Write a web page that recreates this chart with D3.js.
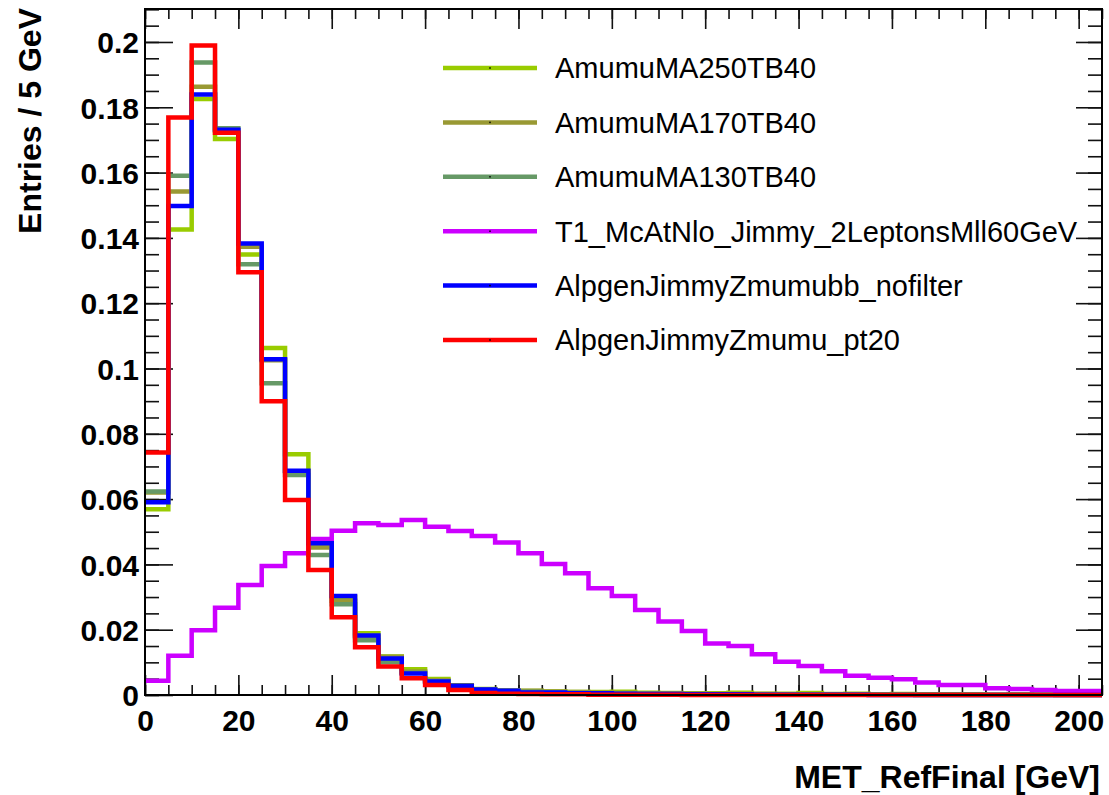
<!DOCTYPE html>
<html>
<head>
<meta charset="utf-8">
<script src="https://cdn.jsdelivr.net/npm/d3@7"></script>
<style>
  html, body { margin: 0; padding: 0; background: #fff; }
  svg { display: block; }
  text { font-family: "Liberation Sans", Arial, Helvetica, sans-serif; }
</style>
</head>
<body>
<svg id="chart" width="1109" height="795"></svg>
<script>
// MET_RefFinal distributions, normalised, 5 GeV bins from 0 to 205 GeV
const binWidth = 5;
const xMin = 0, xMax = 205;

const seriesNames = [
  "AmumuMA250TB40",
  "AmumuMA170TB40",
  "AmumuMA130TB40",
  "T1_McAtNlo_Jimmy_2LeptonsMll60GeV",
  "AlpgenJimmyZmumubb_nofilter",
  "AlpgenJimmyZmumu_pt20"
];
const seriesColors = ["#99cc00", "#999933", "#669966", "#cc00ff", "#0000ff", "#ff0000"];

const amumuMA250 = [0.0569, 0.1426, 0.1825, 0.1703, 0.1349, 0.1063, 0.0737, 0.0462, 0.0300, 0.0189,
  0.0118, 0.0079, 0.0049, 0.0030, 0.0018, 0.0014, 0.0012, 0.0011, 0.0009, 0.0009,
  0.0010, 0.0007, 0.0006, 0.0005, 0.0005, 0.0007, 0.0004, 0.0004, 0.0006, 0.0003,
  0.0004, 0.0002, 0.0003, 0.0002, 0.0002, 0.0002, 0.0001, 0.0002, 0.0001, 0.0001, 0.0001];
const amumuMA170 = [0.0620, 0.1542, 0.1863, 0.1728, 0.1373, 0.1025, 0.0685, 0.0452, 0.0289, 0.0178,
  0.0117, 0.0072, 0.0045, 0.0028, 0.0017, 0.0014, 0.0013, 0.0011, 0.0009, 0.0007,
  0.0006, 0.0005, 0.0005, 0.0004, 0.0003, 0.0003, 0.0003, 0.0002, 0.0002, 0.0002,
  0.0002, 0.0001, 0.0001, 0.0001, 0.0001, 0.0001, 0.0001, 0.0001, 0.0001, 0.0000, 0.0000];
const amumuMA130 = [0.0623, 0.1590, 0.1937, 0.1736, 0.1319, 0.0955, 0.0674, 0.0429, 0.0278, 0.0168,
  0.0100, 0.0068, 0.0042, 0.0026, 0.0016, 0.0012, 0.0010, 0.0008, 0.0006, 0.0005,
  0.0004, 0.0004, 0.0003, 0.0003, 0.0002, 0.0002, 0.0002, 0.0001, 0.0001, 0.0001,
  0.0001, 0.0001, 0.0001, 0.0000, 0.0000, 0.0000, 0.0000, 0.0000, 0.0000, 0.0000, 0.0000];
const ttbarMcAtNlo = [0.0044, 0.0120, 0.0198, 0.0267, 0.0337, 0.0395, 0.0434, 0.0478, 0.0503, 0.0526,
  0.0521, 0.0536, 0.0515, 0.0502, 0.0487, 0.0467, 0.0434, 0.0401, 0.0373, 0.0327,
  0.0303, 0.0260, 0.0225, 0.0196, 0.0158, 0.0150, 0.0125, 0.0102, 0.0089, 0.0073,
  0.0059, 0.0053, 0.0048, 0.0038, 0.0031, 0.0031, 0.0021, 0.0018, 0.0015, 0.0012, 0.0012];
const zmumubb = [0.0590, 0.1498, 0.1839, 0.1731, 0.1383, 0.1028, 0.0687, 0.0465, 0.0303, 0.0182,
  0.0112, 0.0066, 0.0041, 0.0028, 0.0017, 0.0013, 0.0008, 0.0008, 0.0005, 0.0005,
  0.0004, 0.0003, 0.0003, 0.0002, 0.0002, 0.0002, 0.0001, 0.0001, 0.0001, 0.0001,
  0.0001, 0.0000, 0.0000, 0.0000, 0.0000, 0.0000, 0.0000, 0.0000, 0.0000, 0.0000, 0.0000];
const zmumuPt20 = [0.0743, 0.1769, 0.1989, 0.1722, 0.1295, 0.0900, 0.0597, 0.0383, 0.0238, 0.0146,
  0.0087, 0.0051, 0.0031, 0.0015, 0.0006, 0.0004, 0.0003, 0.0002, 0.0002, 0.0001,
  0.0001, 0.0001, 0.0001, 0.0000, 0.0000, 0.0000, 0.0000, 0.0000, 0.0000, 0.0000,
  0.0000, 0.0000, 0.0000, 0.0000, 0.0000, 0.0000, 0.0000, 0.0000, 0.0000, 0.0000, 0.0000];

const seriesValues = [amumuMA250, amumuMA170, amumuMA130, ttbarMcAtNlo, zmumubb, zmumuPt20];

const xMajorTicks = [0, 20, 40, 60, 80, 100, 120, 140, 160, 180, 200];
const yMajorTicks = [0, 0.02, 0.04, 0.06, 0.08, 0.1, 0.12, 0.14, 0.16, 0.18, 0.2];
const xTitle = "MET_RefFinal [GeV]";
const yTitle = "Entries / 5 GeV";

// ---- layout ----
const plot = { left: 145, right: 1102, top: 9, bottom: 695 };
const yTop = 0.2101;

const svg = d3.select("#chart");
const x = d3.scaleLinear().domain([xMin, xMax]).range([plot.left, plot.right]);
const y = d3.scaleLinear().domain([0, yTop]).range([plot.bottom, plot.top]);

const xMinor = d3.range(xMin, xMax + 0.001, 5);
const yMinor = d3.range(0, yTop, 0.005);

// ---- axes (ticks on all four sides, pointing inward) ----
function styleAxis(g) {
  g.select(".domain").remove();
  g.selectAll(".tick line").attr("stroke", "#111").attr("stroke-width", 1.6);
}

// bottom
svg.append("g").attr("transform", `translate(0,${plot.bottom})`)
  .call(d3.axisBottom(x).tickValues(xMinor).tickSize(-10).tickFormat(""))
  .call(styleAxis);
svg.append("g").attr("transform", `translate(0,${plot.bottom})`)
  .call(d3.axisBottom(x).tickValues(xMajorTicks).tickSize(-20).tickPadding(30).tickFormat(d3.format("d")))
  .call(styleAxis)
  .call(g => g.selectAll("text")
    .attr("font-size", 30).attr("font-weight", "bold").attr("fill", "#000")
    .attr("dy", "0.2em"));
// top
svg.append("g").attr("transform", `translate(0,${plot.top})`)
  .call(d3.axisTop(x).tickValues(xMinor).tickSize(-10).tickFormat(""))
  .call(styleAxis);
svg.append("g").attr("transform", `translate(0,${plot.top})`)
  .call(d3.axisTop(x).tickValues(xMajorTicks).tickSize(-20).tickFormat(""))
  .call(styleAxis);
// left
svg.append("g").attr("transform", `translate(${plot.left},0)`)
  .call(d3.axisLeft(y).tickValues(yMinor).tickSize(-14).tickFormat(""))
  .call(styleAxis);
svg.append("g").attr("transform", `translate(${plot.left},0)`)
  .call(d3.axisLeft(y).tickValues(yMajorTicks).tickSize(-28)
    .tickFormat(d => String(+d.toFixed(2))))
  .call(styleAxis)
  .call(g => g.selectAll("text")
    .attr("font-size", 30).attr("font-weight", "bold").attr("fill", "#000")
    .attr("text-anchor", "end").attr("x", -6).attr("dy", "0.36em"));
// right
svg.append("g").attr("transform", `translate(${plot.right},0)`)
  .call(d3.axisRight(y).tickValues(yMinor).tickSize(-14).tickFormat(""))
  .call(styleAxis);
svg.append("g").attr("transform", `translate(${plot.right},0)`)
  .call(d3.axisRight(y).tickValues(yMajorTicks).tickSize(-26).tickFormat(""))
  .call(styleAxis);

// ---- histograms (step outlines, last series on top) ----
const plotArea = svg.append("g");
function histPath(values) {
  let p = "";
  values.forEach((v, i) => {
    const x0 = x(xMin + i * binWidth), x1 = x(xMin + (i + 1) * binWidth), yy = y(v);
    p += (i === 0 ? `M${x0},${yy}` : `V${yy}`) + `H${x1}`;
  });
  return p;
}
seriesValues.forEach((vals, k) => {
  plotArea.append("path")
    .attr("d", histPath(vals))
    .attr("fill", "none")
    .attr("stroke", seriesColors[k])
    .attr("stroke-width", 4.5)
    .attr("stroke-linejoin", "miter")
    .attr("stroke-linecap", "butt");
});

// frame
svg.append("rect")
  .attr("x", plot.left).attr("y", plot.top)
  .attr("width", plot.right - plot.left).attr("height", plot.bottom - plot.top)
  .attr("fill", "none").attr("stroke", "#000").attr("stroke-width", 2);

// ---- legend ----
const legend = svg.append("g");
const legendX0 = 443, legendX1 = 537, legendTextX = 555, legendY0 = 68, legendDy = 54.4;
seriesNames.forEach((name, k) => {
  const ly = legendY0 + k * legendDy;
  legend.append("line")
    .attr("x1", legendX0).attr("x2", legendX1).attr("y1", ly).attr("y2", ly)
    .attr("stroke", seriesColors[k]).attr("stroke-width", 4.5);
  legend.append("rect")
    .attr("x", (legendX0 + legendX1) / 2 - 0.75).attr("y", ly - 0.75)
    .attr("width", 1.5).attr("height", 1.5).attr("fill", "#000");
  legend.append("text")
    .attr("x", legendTextX).attr("y", ly).attr("dy", "0.36em")
    .attr("font-size", 29).attr("fill", "#000")
    .text(name);
});

// ---- axis titles ----
svg.append("text")
  .attr("x", 1100).attr("y", 788)
  .attr("text-anchor", "end")
  .attr("font-size", 32).attr("font-weight", "bold")
  .text(xTitle);
svg.append("text")
  .attr("transform", "translate(41,8) rotate(-90)")
  .attr("text-anchor", "end")
  .attr("font-size", 32).attr("font-weight", "bold")
  .text(yTitle);
</script>
</body>
</html>
